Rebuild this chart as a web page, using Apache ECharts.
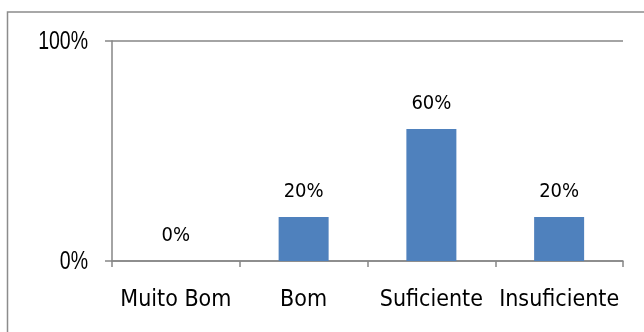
<!DOCTYPE html>
<html>
<head>
<meta charset="utf-8">
<script src="https://cdn.jsdelivr.net/npm/echarts@6/dist/echarts.min.js"></script>
<style>
  html, body { margin: 0; padding: 0; background: #ffffff; }
  #chart { width: 644px; height: 332px; }
</style>
</head>
<body>
<div id="chart"></div>
<script>
// Avaliação: distribuição percentual por categoria
const categories = ['Muito Bom', 'Bom', 'Suficiente', 'Insuficiente'];
const percentages = [0, 20, 60, 20];
const yTicks = [0, 100];

const axisGray = '#868686';
const barBlue = '#4F81BD';
const labelFont = '"DejaVu Sans Condensed", "DejaVu Sans", sans-serif';
const tickFontCss = '26px "Liberation Sans", Arial, sans-serif';

const chart = echarts.init(document.getElementById('chart'), null, { renderer: 'canvas' });

chart.setOption({
  animation: false,
  backgroundColor: '#ffffff',
  graphic: [{
    // chart frame
    id: 'frame',
    type: 'rect',
    shape: { x: 7.5, y: 12, width: 700, height: 400 },
    style: { fill: 'none', stroke: '#8c8c8c', lineWidth: 1.5 },
    silent: true,
    z: -1
  }],
  grid: { left: 112, right: 21, top: 41, bottom: 71 },
  xAxis: {
    type: 'category',
    data: categories,
    boundaryGap: true,
    axisLine: { show: true, lineStyle: { color: axisGray, width: 1.5 } },
    axisTick: { show: true, alignWithLabel: false, length: 6, lineStyle: { color: axisGray, width: 1.5 } },
    axisLabel: {
      interval: 0,
      margin: 28,
      color: '#000000',
      fontFamily: labelFont,
      fontSize: 23
    }
  },
  yAxis: {
    type: 'value',
    min: yTicks[0],
    max: yTicks[yTicks.length - 1],
    interval: yTicks[1] - yTicks[0],
    axisLine: { show: true, lineStyle: { color: axisGray, width: 1.5 } },
    axisTick: { show: true, length: 7, lineStyle: { color: axisGray, width: 1.5 } },
    splitLine: { show: true, lineStyle: { color: axisGray, width: 1.5 } },
    // tick labels are drawn below as condensed text
    axisLabel: { show: false }
  },
  series: [{
    type: 'bar',
    data: percentages,
    barWidth: 50,
    itemStyle: { color: barBlue },
    label: {
      show: true,
      position: 'top',
      distance: 15,
      color: '#000000',
      fontFamily: labelFont,
      fontSize: 20,
      formatter: '{c}%'
    }
  }]
});

// Narrow y-axis tick labels, placed with the axis scales
const c0 = chart.convertToPixel({ xAxisIndex: 0 }, categories[0]);
const c1 = chart.convertToPixel({ xAxisIndex: 0 }, categories[1]);
const axisX = c0 - (c1 - c0) / 2;
const tickLabels = yTicks.map(function (v, i) {
  const py = chart.convertToPixel({ yAxisIndex: 0 }, v);
  return {
    id: 'ytick' + i,
    type: 'text',
    x: axisX - 24,
    y: py + 0.5,
    scaleX: 0.75,
    silent: true,
    style: {
      text: v + '%',
      x: 0,
      y: 0,
      font: tickFontCss,
      fill: '#000000',
      align: 'right',
      verticalAlign: 'middle'
    }
  };
});
chart.setOption({ graphic: tickLabels });
</script>
</body>
</html>
